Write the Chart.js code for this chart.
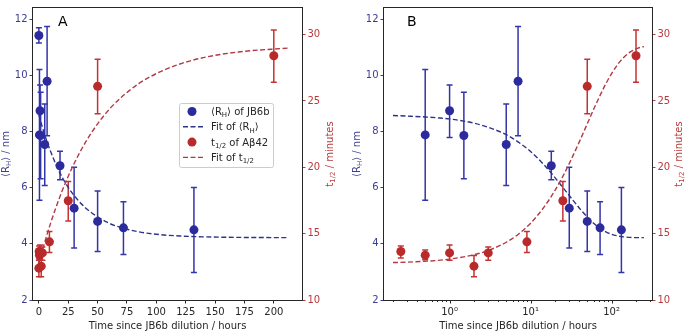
<!DOCTYPE html>
<html>
<head>
<meta charset="utf-8">
<script src="https://cdn.jsdelivr.net/npm/chart.js@4.4.0/dist/chart.umd.min.js"></script>
<style>
  body { margin: 0; background: #fff; }
  #wrap { position: relative; width: 685px; height: 332px; }
  canvas { position: absolute; top: 0; }
  #chartA { left: 0; }
  #chartB { left: 340px; }
</style>
</head>
<body>
<div id="wrap">
  <canvas id="chartA" width="340" height="332"></canvas>
  <canvas id="chartB" width="345" height="332"></canvas>
</div>
<script>
// <RH> of JB6b (nm) against time since dilution (hours)
const RH_TIME = [0.5, 1, 1.5, 5, 7, 18, 30, 50, 72, 132];
const RH_VAL  = [7.88, 8.74, 7.86, 7.54, 9.79, 6.78, 5.27, 4.80, 4.57, 4.50];
const RH_LOW  = [5.55, 7.79, 6.32, 6.08, 7.85, 6.28, 3.85, 3.73, 3.62, 2.98];
const RH_HIGH = [10.21, 9.66, 9.40, 8.98, 11.74, 7.30, 6.73, 5.88, 5.50, 6.01];
const RH_ZERO = [11.42, 11.15, 11.70]; // t = 0 : value, low, high (linear panel only)

// t1/2 of Abeta42 (minutes)
const T_TIME = [0.25, 0.5, 1, 2, 3, 9, 25, 50, 200];
const T_VAL  = [13.65, 13.38, 13.55, 12.55, 13.55, 14.38, 17.48, 26.1, 28.4];
const T_LOW  = [13.16, 13.04, 13.0, 11.76, 13.0, 13.57, 15.96, 24.04, 26.4];
const T_HIGH = [14.07, 13.77, 14.14, 13.35, 14.0, 15.17, 18.92, 28.14, 30.35];
const T_ZERO = [12.4, 11.75, 13.0];

// fitted curves
const FIT_TIME = [0, 0.2, 0.3, 0.5, 0.7, 1, 1.5, 2, 3, 5, 7, 10, 15, 20, 25, 30, 40, 50, 60, 70, 85, 100, 120, 140, 170, 212, 250];
const FIT_RH = [8.60, 8.57, 8.55, 8.52, 8.49, 8.45, 8.37, 8.30, 8.15, 7.89, 7.63, 7.29, 6.78, 6.36, 6.01, 5.72, 5.27, 4.96, 4.73, 4.58, 4.43, 4.34, 4.28, 4.25, 4.23, 4.22, 4.22];
const FIT_T  = [12.75, 12.82, 12.85, 12.92, 12.98, 13.08, 13.25, 13.41, 13.73, 14.35, 14.94, 15.79, 17.09, 18.26, 19.32, 20.28, 21.93, 23.27, 24.37, 25.26, 26.30, 27.06, 27.78, 28.26, 28.69, 28.98, 29.10];

const LIN_TICKS = [0, 25, 50, 75, 100, 125, 150, 175, 200];
const LOG_TICKS = [0.2, 0.3, 0.4, 0.5, 0.6, 0.7, 0.8, 0.9, 1, 2, 3, 4, 5, 6, 7, 8, 9, 10, 20, 30, 40, 50, 60, 70, 80, 90, 100, 200, 300];
const LOG_LABELS = { 1: '10\u2070', 10: '10\u00b9', 100: '10\u00b2' };
const RH_TICKS = [2, 4, 6, 8, 10, 12];
const T_TICKS = [10, 15, 20, 25, 30];

const BLUE = '#2b2b9e', BLUE_ERR = '#3535aa', BLUE_FIT = '#2c3487', BLUE_TXT = '#3c3c95';
const RED = '#b92a2a', RED_ERR = '#c43333', RED_FIT = '#b13a45', RED_TXT = '#b83a3a';
const INK = '#262626';
const FONT = 'DejaVu Sans';

Chart.defaults.font.family = FONT;
Chart.defaults.font.size = 10;

function pts(xs, ys) {
    return xs.map((x, i) => ({ x: x, y: ys[i] }));
}

function drawRich(ctx, parts, x, y, size, color, align) {
    ctx.save();
    ctx.fillStyle = color;
    ctx.textAlign = 'left';
    ctx.textBaseline = 'alphabetic';
    let w = 0;
    parts.forEach(p => {
        ctx.font = (p[1] ? size * 0.7 : size) + 'px "' + FONT + '"';
        w += ctx.measureText(p[0]).width;
    });
    let cx = align === 'center' ? x - w / 2 : x;
    parts.forEach(p => {
        ctx.font = (p[1] ? size * 0.7 : size) + 'px "' + FONT + '"';
        ctx.fillText(p[0], cx, y + (p[1] ? size * 0.22 : 0));
        cx += ctx.measureText(p[0]).width;
    });
    ctx.restore();
}

const RH_LABEL = [['\u27e8R', 0], ['H', 1], ['\u27e9 / nm', 0]];
const T_LABEL = [['t', 0], ['1/2', 1], [' / minutes', 0]];

function buildChart(id, log, cfg) {
    const rhX = log ? RH_TIME : [0].concat(RH_TIME);
    const rhY = log ? RH_VAL : [RH_ZERO[0]].concat(RH_VAL);
    const rhLo = log ? RH_LOW : [RH_ZERO[1]].concat(RH_LOW);
    const rhHi = log ? RH_HIGH : [RH_ZERO[2]].concat(RH_HIGH);
    const tX = log ? T_TIME : [0].concat(T_TIME);
    const tY = log ? T_VAL : [T_ZERO[0]].concat(T_VAL);
    const tLo = log ? T_LOW : [T_ZERO[1]].concat(T_LOW);
    const tHi = log ? T_HIGH : [T_ZERO[2]].concat(T_HIGH);

    const fitX = [], fitRh = [], fitT = [];
    FIT_TIME.forEach((t, i) => {
        if (log ? t > 0 : t <= 215) {
            fitX.push(t); fitRh.push(FIT_RH[i]); fitT.push(FIT_T[i]);
        }
    });

    const errorBars = {
        id: 'errorBars',
        beforeDatasetsDraw(chart) {
            const ctx = chart.ctx, xs = chart.scales.x;
            const sets = [
                { x: rhX, lo: rhLo, hi: rhHi, ys: chart.scales.y, color: BLUE_ERR },
                { x: tX, lo: tLo, hi: tHi, ys: chart.scales.y2, color: RED_ERR }
            ];
            ctx.save();
            ctx.lineWidth = 1.5;
            sets.forEach(s => {
                ctx.strokeStyle = s.color;
                s.x.forEach((v, i) => {
                    const px = xs.getPixelForValue(v);
                    const y1 = s.ys.getPixelForValue(s.lo[i]);
                    const y2 = s.ys.getPixelForValue(s.hi[i]);
                    ctx.beginPath();
                    ctx.moveTo(px, y1); ctx.lineTo(px, y2);
                    ctx.moveTo(px - 3, y1); ctx.lineTo(px + 3, y1);
                    ctx.moveTo(px - 3, y2); ctx.lineTo(px + 3, y2);
                    ctx.stroke();
                });
            });
            ctx.restore();
        }
    };

    const decorations = {
        id: 'decorations',
        afterDraw(chart) {
            const ctx = chart.ctx, a = chart.chartArea;
            ctx.save();
            // frame
            ctx.strokeStyle = INK;
            ctx.lineWidth = 1;
            ctx.strokeRect(Math.round(a.left) - 0.5, Math.round(a.top) - 0.5,
                Math.round(a.right - a.left) + 1, Math.round(a.bottom - a.top) + 1);
            // log minor/major ticks
            if (log) {
                const xs = chart.scales.x;
                ctx.beginPath();
                LOG_TICKS.forEach(v => {
                    const px = Math.round(xs.getPixelForValue(v)) + 0.5;
                    const len = LOG_LABELS[v] ? 3.5 : 2;
                    ctx.moveTo(px, a.bottom); ctx.lineTo(px, a.bottom + len);
                });
                ctx.stroke();
            }
            // panel letter
            ctx.fillStyle = '#000';
            ctx.font = '14px "' + FONT + '"';
            ctx.fillText(cfg.letter, cfg.letterX, 26);
            ctx.restore();

            // axis titles
            drawRich(ctx, [['Time since JB6b dilution / hours', 0]], (a.left + a.right) / 2, 329, 10, INK, 'center');
            const midY = (a.top + a.bottom) / 2;
            [[cfg.leftTitleX, RH_LABEL, BLUE_TXT], [cfg.rightTitleX, T_LABEL, RED_TXT]].forEach(t => {
                ctx.save();
                ctx.translate(t[0], midY);
                ctx.rotate(-Math.PI / 2);
                drawRich(ctx, t[1], 0, 3.5, 10, t[2], 'center');
                ctx.restore();
            });

            // legend
            if (cfg.legend) {
                const L = cfg.legend;
                ctx.save();
                ctx.fillStyle = 'rgba(255,255,255,0.85)';
                ctx.strokeStyle = '#cccccc';
                ctx.lineWidth = 1;
                ctx.beginPath();
                ctx.roundRect(L.x + 0.5, L.y + 0.5, L.w, L.h, 2);
                ctx.fill();
                ctx.stroke();
                const rows = [
                    { kind: 'dot', color: BLUE, text: [['\u27e8R', 0], ['H', 1], ['\u27e9 of JB6b', 0]] },
                    { kind: 'dash', color: BLUE_FIT, text: [['Fit of \u27e8R', 0], ['H', 1], ['\u27e9', 0]] },
                    { kind: 'dot', color: RED, text: [['t', 0], ['1/2', 1], [' of A\u03b242', 0]] },
                    { kind: 'dash', color: RED_FIT, text: [['Fit of t', 0], ['1/2', 1]] }
                ];
                rows.forEach((r, i) => {
                    const ry = L.y + 8.5 + i * 15.3;
                    if (r.kind === 'dot') {
                        ctx.fillStyle = r.color;
                        ctx.beginPath();
                        ctx.arc(L.x + 13, ry, 4.5, 0, Math.PI * 2);
                        ctx.fill();
                    } else {
                        ctx.strokeStyle = r.color;
                        ctx.lineWidth = 1.4;
                        ctx.setLineDash([5, 2.5]);
                        ctx.beginPath();
                        ctx.moveTo(L.x + 4, ry); ctx.lineTo(L.x + 24, ry);
                        ctx.stroke();
                        ctx.setLineDash([]);
                    }
                    drawRich(ctx, r.text, L.x + 32, ry + 3.5, 10, INK, 'left');
                });
                ctx.restore();
            }
        }
    };

    const tickGrid = (color) => ({
        display: true, drawOnChartArea: false, drawTicks: true,
        tickLength: 3.5, tickColor: color, tickWidth: 1, color: 'rgba(0,0,0,0)'
    });

    return new Chart(document.getElementById(id), {
        type: 'scatter',
        data: {
            datasets: [{
                label: 't1/2 of Abeta42',
                data: pts(tX, tY),
                yAxisID: 'y2',
                pointRadius: 4.5,
                pointBorderWidth: 0,
                pointBackgroundColor: RED,
                pointHoverRadius: 4.5
            }, {
                label: 'Fit of t1/2',
                data: pts(fitX, fitT),
                yAxisID: 'y2',
                showLine: true,
                pointRadius: 0,
                borderColor: RED_FIT,
                borderWidth: 1.4,
                borderDash: [5, 2.5],
                cubicInterpolationMode: 'monotone'
            }, {
                label: 'Fit of RH',
                data: pts(fitX, fitRh),
                yAxisID: 'y',
                showLine: true,
                pointRadius: 0,
                borderColor: BLUE_FIT,
                borderWidth: 1.4,
                borderDash: [5, 2.5],
                cubicInterpolationMode: 'monotone'
            }, {
                label: 'RH of JB6b',
                data: pts(rhX, rhY),
                yAxisID: 'y',
                pointRadius: 4.5,
                pointBorderWidth: 0,
                pointBackgroundColor: BLUE,
                pointHoverRadius: 4.5
            }]
        },
        options: {
            responsive: false,
            animation: false,
            events: [],
            layout: { padding: { top: 1, left: 0, right: 0, bottom: 0 } },
            plugins: { legend: { display: false }, tooltip: { enabled: false } },
            scales: {
                x: log ? {
                    type: 'logarithmic',
                    min: 0.155,
                    max: 315,
                    afterBuildTicks: s => { s.ticks = LOG_TICKS.map(v => ({ value: v, major: !!LOG_LABELS[v] })); },
                    afterFit: s => { s.height = 32; },
                    ticks: { autoSkip: false, maxRotation: 0, color: INK, padding: 3, callback: v => LOG_LABELS[v] || '' },
                    grid: { display: false, drawTicks: true, tickLength: 3.5 },
                    border: { display: false }
                } : {
                    type: 'linear',
                    min: -5,
                    max: 224,
                    afterBuildTicks: s => { s.ticks = LIN_TICKS.map(v => ({ value: v })); },
                    afterFit: s => { s.height = 32; },
                    ticks: { autoSkip: false, maxRotation: 0, color: INK, padding: 3 },
                    grid: tickGrid(INK),
                    border: { display: false }
                },
                y: {
                    type: 'linear',
                    position: 'left',
                    min: 2,
                    max: 12.4,
                    afterBuildTicks: s => { s.ticks = RH_TICKS.map(v => ({ value: v })); },
                    afterFit: s => { s.width = cfg.leftW; },
                    ticks: { color: BLUE_TXT, padding: 2 },
                    grid: tickGrid(BLUE_TXT),
                    border: { display: false }
                },
                y2: {
                    type: 'linear',
                    position: 'right',
                    min: 10,
                    max: 32,
                    afterBuildTicks: s => { s.ticks = T_TICKS.map(v => ({ value: v })); },
                    afterFit: s => { s.width = cfg.rightW; },
                    ticks: { color: RED_TXT, padding: 2 },
                    grid: tickGrid(RED_TXT),
                    border: { display: false }
                }
            }
        },
        plugins: [errorBars, decorations]
    });
}

buildChart('chartA', false, {
    leftW: 33, rightW: 38, letter: 'A', letterX: 58,
    leftTitleX: 5, rightTitleX: 329,
    legend: { x: 179, y: 103, w: 94, h: 64 }
});
buildChart('chartB', true, {
    leftW: 44, rightW: 33, letter: 'B', letterX: 67,
    leftTitleX: 16, rightTitleX: 338,
    legend: null
});
</script>
</body>
</html>
